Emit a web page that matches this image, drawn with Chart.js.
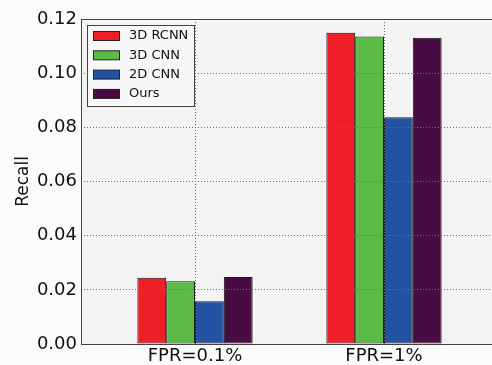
<!DOCTYPE html>
<html>
<head>
<meta charset="utf-8">
<script src="https://cdn.jsdelivr.net/npm/chart.js@4.4.1/dist/chart.umd.min.js"></script>
<style>
  html, body { margin: 0; padding: 0; background: #fafbfc; overflow: hidden; }
  #wrap { width: 520px; height: 365px; }
</style>
</head>
<body>
<div id="wrap"><canvas id="myChart" width="520" height="365"></canvas></div>
<script>
// datos
const categories = ['FPR=0.1%', 'FPR=1%']
const seriesNames = ['3D RCNN', '3D CNN', '2D CNN', 'Ours']
const rcnn3d = [0.0245, 0.1149]
const cnn3d = [0.0232, 0.1135]
const cnn2d = [0.0158, 0.0837]
const ours = [0.0247, 0.1131]
const yTicks = [0, 0.02, 0.04, 0.06, 0.08, 0.10, 0.12]

const colors = ['#ee1f27', '#5cbb47', '#2352a2', '#480b43']
const allValues = [rcnn3d, cnn3d, cnn2d, ours]

const datasets = allValues.map((vals, i) => ({
  label: seriesNames[i],
  data: vals.map((v, j) => ({ x: j, y: v })),
  backgroundColor: colors[i],
  borderColor: '#1a1a1a',
  borderWidth: 1,
  borderSkipped: false,
  categoryPercentage: 0.61,
  barPercentage: 1
}))

// fondo del area del grafico, rejilla encima de las barras y marco
const frame = {
  id: 'frame',
  beforeDraw(chart) {
    const { ctx, chartArea: a } = chart
    ctx.save()
    ctx.fillStyle = '#fafbfc'
    ctx.fillRect(0, 0, chart.width, chart.height)
    ctx.fillStyle = '#f3f3f3'
    ctx.fillRect(a.left, a.top, a.right - a.left, a.bottom - a.top)
    ctx.restore()
  },
  afterDatasetsDraw(chart) {
    const { ctx, chartArea: a } = chart
    // la rejilla va por encima de las barras
    chart.scales.x.drawGrid(a)
    chart.scales.y.drawGrid(a)

    ctx.save()
    ctx.strokeStyle = '#4a4040'
    ctx.lineWidth = 1
    ctx.beginPath()
    ctx.moveTo(a.right + 5, a.top + 0.5)
    ctx.lineTo(a.left + 0.5, a.top + 0.5)
    ctx.lineTo(a.left + 0.5, a.bottom + 0.5)
    ctx.lineTo(a.right + 5, a.bottom + 0.5)
    ctx.stroke()

    // leyenda
    const lx = a.left + 6, ly = a.top + 6
    ctx.fillStyle = '#f7f7f7'
    ctx.fillRect(lx, ly, 107, 81)
    ctx.strokeStyle = '#4a4040'
    ctx.strokeRect(lx + 0.5, ly + 0.5, 107, 81)
    ctx.font = '13px "DejaVu Sans"'
    ctx.textBaseline = 'middle'
    chart.data.datasets.forEach((ds, i) => {
      const yy = ly + 11 + i * 19.3
      ctx.fillStyle = ds.backgroundColor
      ctx.fillRect(lx + 6, yy - 4.5, 26, 9)
      ctx.strokeStyle = '#222'
      ctx.strokeRect(lx + 6.5, yy - 4.5, 26, 9)
      ctx.fillStyle = '#111'
      ctx.fillText(ds.label, lx + 42, yy)
    })
    ctx.restore()
  }
}

const ctx = document.getElementById('myChart')

new Chart(ctx, {
  type: 'bar',
  data: { datasets },
  options: {
    responsive: false,
    animation: false,
    layout: { padding: { top: 19, left: 0, right: 0, bottom: 0 } },
    plugins: { legend: { display: false }, tooltip: { enabled: false } },
    scales: {
      x: {
        type: 'linear',
        offset: false,
        min: -114 / 189,
        max: 1 + 136 / 189,
        afterBuildTicks: axis => { axis.ticks = categories.map((c, i) => ({ value: i })) },
        afterFit: axis => { axis.height = 21 },
        ticks: {
          autoSkip: false,
          maxRotation: 0,
          padding: 2,
          color: '#111',
          font: { family: 'DejaVu Sans', size: 18 },
          callback: v => categories[v]
        },
        grid: { offset: false, color: '#666f74', drawTicks: false },
        border: { display: false, dash: [1, 2] }
      },
      y: {
        min: 0,
        max: 0.12,
        afterBuildTicks: axis => { axis.ticks = yTicks.map(v => ({ value: v })) },
        afterFit: axis => { axis.width = 81 },
        ticks: {
          padding: 4,
          color: '#111',
          font: { family: 'DejaVu Sans', size: 18 },
          callback: v => v.toFixed(2)
        },
        title: {
          display: true,
          text: 'Recall',
          color: '#111',
          font: { family: 'DejaVu Sans', size: 17 },
          padding: { top: 13, bottom: 0 }
        },
        grid: { color: '#666f74', drawTicks: false },
        border: { display: false, dash: [1, 2] }
      }
    }
  },
  plugins: [frame]
})
</script>
</body>
</html>
